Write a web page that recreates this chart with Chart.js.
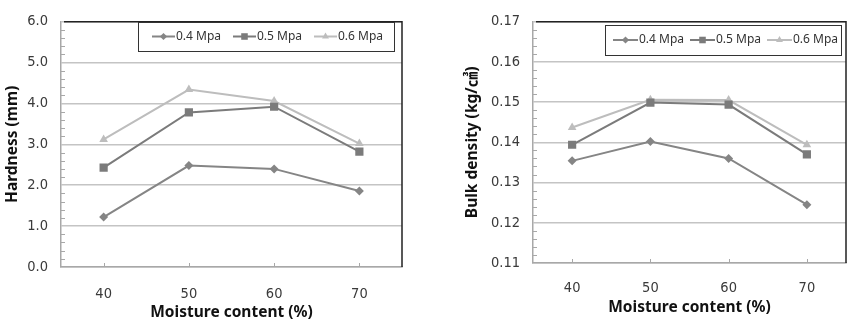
<!DOCTYPE html>
<html>
<head>
<meta charset="utf-8">
<script src="https://cdn.jsdelivr.net/npm/chart.js@4"></script>
<style>
  body { margin: 0; background: #fff; }
  .box { position: absolute; top: 0; height: 327px; }
</style>
</head>
<body>
<div class="box" style="left:0;width:430px"><canvas id="hardnessChart" width="430" height="327"></canvas></div>
<div class="box" style="left:430px;width:428px"><canvas id="densityChart" width="428" height="327"></canvas></div>
<script>
// Data
const categories = ['40', '50', '60', '70'];
const seriesLabels = ['0.4 Mpa', '0.5 Mpa', '0.6 Mpa'];

const hardness04 = [1.22, 2.48, 2.40, 1.86];
const hardness05 = [2.43, 3.78, 3.92, 2.82];
const hardness06 = [3.12, 4.34, 4.06, 3.02];

const density04 = [0.1354, 0.1402, 0.1360, 0.1245];
const density05 = [0.1394, 0.1499, 0.1494, 0.1370];
const density06 = [0.1437, 0.1506, 0.1505, 0.1394];

const hardnessTicks = [0, 1, 2, 3, 4, 5, 6];
const densityTicks = [0.11, 0.12, 0.13, 0.14, 0.15, 0.16, 0.17];

// Series look
const seriesStyles = [
  { color: '#858585', pointStyle: 'rectRot', radius: 4.5 },
  { color: '#7b7b7b', pointStyle: 'rect', radius: 5.8 },
  { color: '#bdbdbd', pointStyle: 'triangle', radius: 5 }
];

// narrow tick labels: font-stretch goes in the weight slot of the font string
const tickFont = { family: "'DejaVu Sans', sans-serif", size: 14.5, weight: 'condensed' };
const titleFont = { family: "'Noto Sans', 'Noto Sans CJK KR', sans-serif", size: 15.5, weight: 'bold' };

function makeDatasets(values) {
  return values.map((data, i) => ({
    label: seriesLabels[i],
    data: data,
    borderColor: seriesStyles[i].color,
    backgroundColor: seriesStyles[i].color,
    borderWidth: 2,
    pointStyle: seriesStyles[i].pointStyle,
    pointRadius: seriesStyles[i].radius,
    pointBorderWidth: 0,
    tension: 0
  }));
}

// Minor ticks, inward category ticks and dark top/right frame
const framePlugin = {
  id: 'frame',
  afterDraw(chart) {
    const { ctx, chartArea: { left, right, top, bottom }, scales: { x, y } } = chart;
    ctx.save();
    ctx.strokeStyle = '#a8a8a8';
    ctx.lineWidth = 1;
    const majors = y.ticks.map(t => t.value);
    for (let i = 0; i < majors.length - 1; i++) {
      for (let k = 1; k < 5; k++) {
        const py = Math.round(y.getPixelForValue(majors[i] + (majors[i + 1] - majors[i]) * k / 5)) + 0.5;
        ctx.beginPath();
        ctx.moveTo(left, py);
        ctx.lineTo(left + 4, py);
        ctx.stroke();
      }
    }
    chart.data.labels.forEach((l, i) => {
      const px = Math.round(x.getPixelForValue(i)) + 0.5;
      ctx.beginPath();
      ctx.moveTo(px, bottom);
      ctx.lineTo(px, bottom - 4);
      ctx.stroke();
    });
    ctx.strokeStyle = '#222';
    ctx.lineWidth = 1.5;
    ctx.beginPath();
    ctx.moveTo(left + 3, top);
    ctx.lineTo(right, top);
    ctx.lineTo(right, bottom);
    ctx.stroke();
    ctx.restore();
  }
};

// Boxed legend inside the plot
const boxLegendPlugin = {
  id: 'boxLegend',
  afterDraw(chart, args, o) {
    const ctx = chart.ctx;
    ctx.save();
    ctx.fillStyle = '#fff';
    ctx.fillRect(o.left, o.top, o.width, o.height);
    ctx.strokeStyle = '#333';
    ctx.lineWidth = 1;
    ctx.strokeRect(o.left + 0.5, o.top + 0.5, o.width, o.height);
    const cy = o.top + o.height / 2;
    chart.data.datasets.forEach((ds, i) => {
      const x0 = o.startX + i * o.step;
      ctx.strokeStyle = ds.borderColor;
      ctx.lineWidth = 2;
      ctx.beginPath();
      ctx.moveTo(x0, cy);
      ctx.lineTo(x0 + o.lineLen, cy);
      ctx.stroke();
      ctx.fillStyle = ds.backgroundColor;
      Chart.helpers.drawPoint(ctx, {
        pointStyle: ds.pointStyle, radius: ds.pointRadius * 0.8, rotation: 0, borderWidth: 0
      }, x0 + o.lineLen / 2, cy);
      ctx.fillStyle = '#333';
      ctx.font = "12px 'Noto Sans', sans-serif";
      ctx.textBaseline = 'middle';
      ctx.fillText(ds.label, x0 + o.lineLen + 1, cy);
    });
    ctx.restore();
  }
};

function makeChart(id, values, ticks, decimals, yTitle, lay) {
  const ctx = document.getElementById(id).getContext('2d');
  return new Chart(ctx, {
    type: 'line',
    data: { labels: categories, datasets: makeDatasets(values) },
    options: {
      responsive: false,
      animation: false,
      layout: { padding: { left: 0, top: lay.top, right: lay.right, bottom: 0 } },
      plugins: {
        legend: { display: false },
        tooltip: { enabled: false },
        boxLegend: lay.legend
      },
      scales: {
        x: {
          offset: true,
          grid: { display: false },
          border: { color: '#a8a8a8', width: 1.5 },
          ticks: { font: tickFont, color: '#3a3a3a', padding: lay.xPad },
          title: { display: true, text: 'Moisture content (%)', font: titleFont, color: '#111',
                   padding: { top: 0, bottom: lay.xTitlePad } },
          afterFit(scale) { scale.height = lay.xHeight; }
        },
        y: {
          min: ticks[0],
          max: ticks[ticks.length - 1],
          afterBuildTicks(scale) { scale.ticks = ticks.map(v => ({ value: v })); },
          grid: { color: '#c4c4c4', lineWidth: 1.5, drawTicks: false },
          border: { color: '#a8a8a8', width: 1.5 },
          ticks: { font: tickFont, color: '#3a3a3a', padding: 13,
                   callback: v => Number(v).toFixed(decimals) },
          title: { display: true, text: yTitle, font: titleFont, color: '#111',
                   padding: { top: lay.yTitlePad, bottom: 0 } },
          afterFit(scale) { scale.width = lay.yWidth; }
        }
      }
    },
    plugins: [framePlugin, boxLegendPlugin]
  });
}

makeChart('hardnessChart', [hardness04, hardness05, hardness06], hardnessTicks, 1, 'Hardness (mm)', {
  top: 17, right: 28, yWidth: 61, xHeight: 60, xPad: 11, xTitlePad: 5, yTitlePad: 3.7,
  legend: { left: 138, top: 22, width: 256, height: 29, startX: 152, step: 81, lineLen: 23 }
});

makeChart('densityChart', [density04, density05, density06], densityTicks, 2, 'Bulk density (kg/㎤)', {
  top: 20, right: 12, yWidth: 103, xHeight: 64, xPad: 9, xTitlePad: 10, yTitlePad: 33.7,
  legend: { left: 175, top: 25, width: 236, height: 30, startX: 183, step: 77, lineLen: 25 }
});
</script>
</body>
</html>
